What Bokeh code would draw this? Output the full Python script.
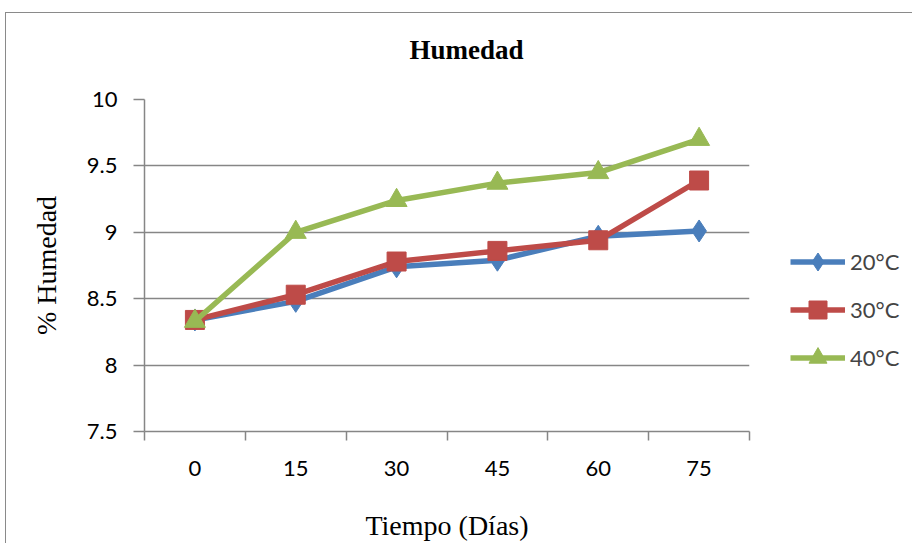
from bokeh.plotting import figure
from bokeh.models import FixedTicker, Legend, LegendItem, Range1d, Title
from bokeh.embed import file_html
from bokeh.resources import INLINE

dias = ["0", "15", "30", "45", "60", "75"]
hum_20 = [8.34, 8.48, 8.74, 8.79, 8.97, 9.01]
hum_30 = [8.34, 8.53, 8.78, 8.86, 8.94, 9.39]
hum_40 = [8.33, 9.00, 9.24, 9.37, 9.45, 9.70]
y_ticks = [7.5, 8, 8.5, 9, 9.5, 10]
y_tick_labels = ["7.5", "8", "8.5", "9", "9.5", "10"]

xs = list(range(len(dias)))

p = figure(width=900, height=530, output_backend="svg", toolbar_location=None,
           x_range=Range1d(-0.5, len(dias) - 0.5), y_range=Range1d(7.5, 10),
           frame_width=605, frame_height=332,
           min_border_left=138, min_border_right=156, min_border_top=86, min_border_bottom=112,
           styles={"margin-left": "5px", "margin-top": "12px",
                   "border-top": "1px solid #8a8a8a", "border-left": "1px solid #8a8a8a"})
p.outline_line_color = None
p.background_fill_color = "white"

# spacer panel between the frame and the title
p.add_layout(Title(text=" ", text_font_size="10px", standoff=22), "above")

p.title.text = "Humedad"
p.title.text_font = "Liberation Serif"
p.title.text_font_style = "bold"
p.title.text_font_size = "27px"
p.title.text_color = "black"
p.title.align = "left"
p.title.offset = 265
p.title.standoff = 0

# x axis: labels at category centres, tick marks between categories
p.xaxis.ticker = FixedTicker(ticks=xs, minor_ticks=[i - 0.5 for i in range(len(dias) + 1)])
p.xaxis.major_label_overrides = {i: d for i, d in enumerate(dias)}
p.xaxis.major_tick_out = 0
p.xaxis.major_tick_in = 0
p.xaxis.minor_tick_out = 9
p.xaxis.minor_tick_in = 0
p.xaxis.minor_tick_line_color = "#868686"
p.xaxis.minor_tick_line_width = 1.5
p.xaxis.axis_line_color = "#868686"
p.xaxis.axis_line_width = 1.5
p.xaxis.major_label_text_font = "Lato"
p.xaxis.major_label_text_font_size = "22px"
p.xaxis.major_label_text_color = "black"
p.xaxis.major_label_standoff = 20
p.xaxis.axis_label = "Tiempo (Días)"
p.xaxis.axis_label_text_font = "Liberation Serif"
p.xaxis.axis_label_text_font_style = "normal"
p.xaxis.axis_label_text_font_size = "28px"
p.xaxis.axis_label_standoff = 31
p.xaxis.axis_label_text_color = "black"

p.yaxis.ticker = FixedTicker(ticks=y_ticks, minor_ticks=[])
p.yaxis.major_label_overrides = {t: l for t, l in zip(y_ticks, y_tick_labels)}
p.yaxis.major_tick_out = 11
p.yaxis.major_tick_in = 0
p.yaxis.major_tick_line_color = "#868686"
p.yaxis.major_tick_line_width = 1.5
p.yaxis.axis_line_color = "#868686"
p.yaxis.axis_line_width = 1.5
p.yaxis.major_label_text_font = "Lato"
p.yaxis.major_label_text_font_size = "22px"
p.yaxis.major_label_text_color = "black"
p.yaxis.major_label_standoff = 16
p.yaxis.axis_label = "% Humedad"
p.yaxis.axis_label_text_font = "Liberation Serif"
p.yaxis.axis_label_text_font_style = "normal"
p.yaxis.axis_label_text_font_size = "28px"
p.yaxis.axis_label_standoff = 22
p.yaxis.axis_label_text_color = "black"

p.xgrid.grid_line_color = None
p.ygrid.grid_line_color = "#868686"
p.ygrid.grid_line_width = 1.5

series = [
    ("20°C", hum_20, "#4A7EBB", "diamond", 22),
    ("30°C", hum_30, "#BE4B48", "square", 19),
    ("40°C", hum_40, "#98B954", "triangle", 21),
]
items = []
for name, vals, color, marker, msize in series:
    r1 = p.line(xs, vals, line_color=color, line_width=5.5)
    r2 = p.scatter(xs, vals, marker=marker, size=msize, fill_color=color, line_color=color)
    items.append(LegendItem(label=name, renderers=[r1, r2]))

legend = Legend(items=items, location="top_left", orientation="vertical",
                title=" ", title_text_font_size="10px", title_standoff=88,
                label_text_font="Lato", label_text_font_size="22px",
                glyph_width=55, glyph_height=45, label_height=45, label_standoff=5,
                spacing=3, padding=0, margin=41, border_line_color=None,
                background_fill_alpha=0)
p.add_layout(legend, "right")

open("out.html", "w").write(file_html(p, INLINE))
